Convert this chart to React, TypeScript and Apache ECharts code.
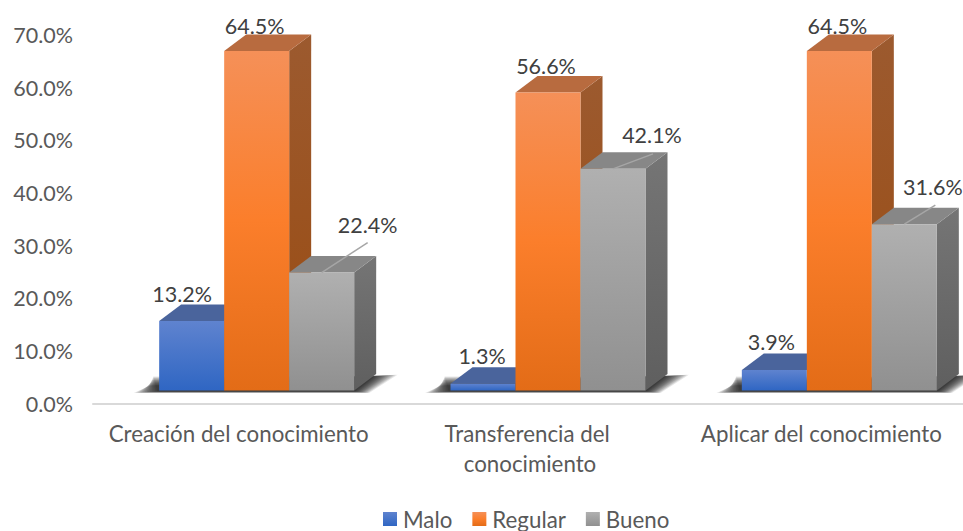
import React, { useEffect, useRef } from "react";
import * as echarts from "echarts";

const categories = ["Creación del conocimiento", "Transferencia del conocimiento", "Aplicar del conocimiento"];
const malo = [13.2, 1.3, 3.9];
const regular = [64.5, 56.6, 64.5];
const bueno = [22.4, 42.1, 31.6];
const seriesNames = ["Malo", "Regular", "Bueno"];
const FONT = "Lato, Carlito, sans-serif";

const BAR_W = 65, DX = 22, DY = 16.5, LIFT = 13, SHIFT = 18;

const lg = (a: string, b: string) => new echarts.graphic.LinearGradient(0, 0, 0, 1, [{ offset: 0, color: a }, { offset: 1, color: b }]);
const lg3 = (a: string, m: string, b: string) => new echarts.graphic.LinearGradient(0, 0, 0, 1, [{ offset: 0, color: a }, { offset: 0.5, color: m }, { offset: 1, color: b }]);

const styles = [
  { front: () => lg("#5f83cf", "#2f66c3"), top: "#4a649c", side: () => lg("#3f5d99", "#2a4a85") },
  { front: () => lg3("#f59058", "#fb7e2b", "#e36c17"), top: "#b86b3f", side: () => lg("#9c5a2f", "#9a4c12") },
  { front: () => lg("#b0b0b0", "#909090"), top: "#878787", side: () => lg("#757575", "#5f5f5f") },
];

// label placement relative to the bar's top-centre [seriesIndex][categoryIndex]
const labelOffsets = [
  [[-9.5, -27], [-1, -28], [-3, -28]],
  [[-2, -25], [-2, -27], [-2, -25]],
  [[46, -48], [39, -34], [28.5, -37]],
];
const leaderEnds: number[][] = [[46, -30], [40, -15], [31, -19]];

function renderBar(params: any, api: any) {
  const s = params.seriesIndex - 1;
  const cat = api.value(0);
  const val = api.value(1);
  const top = api.coord([cat, val]);
  const base = api.coord([cat, 0]);
  const x0 = base[0] + SHIFT + (s - 1) * BAR_W - BAR_W / 2;
  const x1 = x0 + BAR_W;
  const yb = base[1] - LIFT;
  const yt = top[1] - LIFT;
  const st = styles[s];
  const cx = (x0 + x1) / 2;
  const off = labelOffsets[s][cat];
  const children: any[] = [
    { type: "polygon", shape: { points: [[x1, yb], [x1 + DX, yb - DY], [x1 + DX, yt - DY], [x1, yt]] }, style: { fill: st.side() } },
    { type: "polygon", shape: { points: [[x0, yt], [x0 + DX, yt - DY], [x1 + DX, yt - DY], [x1, yt]] }, style: { fill: st.top } },
    { type: "rect", shape: { x: x0, y: yt, width: BAR_W, height: yb - yt }, style: { fill: st.front() } },
  ];
  if (s === 2) {
    const e = leaderEnds[cat];
    children.push({ type: "line", shape: { x1: cx, y1: yt, x2: cx + e[0], y2: yt + e[1] }, style: { stroke: "#a6a6a6", lineWidth: 1.5 } });
  }
  children.push({
    type: "text",
    style: { x: cx + off[0], y: yt + off[1], text: val.toFixed(1) + "%", fill: "#404040", font: `21.5px ${FONT}`, align: "center", verticalAlign: "middle" },
  });
  return { type: "group", children };
}

function renderShadow(params: any, api: any) {
  const base = api.coord([api.value(0), 0]);
  const cx = base[0] + SHIFT;
  const yb = base[1] - LIFT;
  const children: any[] = [];
  const L = cx - 1.5 * BAR_W, R = cx + 1.5 * BAR_W;
  const n = 14;
  for (let i = 0; i < n; i++) {
    const g = (n - 1 - i) * 1.8;
    children.push({
      type: "polygon",
      shape: {
        points: [
          [L - 2 - g, yb + 1 + g * 0.06],
          [R + 1 + g * 0.6, yb + 1 + g * 0.06],
          [R + 20 + g, yb - 14 - g * 0.08],
          [L - 6 - g * 0.15, yb - 14 + g * 0.4],
        ],
      },
      style: { fill: "rgba(0,0,0,0.095)" },
    });
  }
  return { type: "group", children };
}

export default function App() {
  const ref = useRef<HTMLDivElement>(null);
  useEffect(() => {
    const chart = echarts.init(ref.current!, undefined, { renderer: "svg" });
    const all = [malo, regular, bueno];
    chart.setOption({
      animation: false,
      textStyle: { fontFamily: FONT },
      grid: { left: 93, right: -4, top: 35, bottom: 127.5, outerBoundsMode: "none" },
      xAxis: {
        type: "category",
        data: categories,
        axisLine: { lineStyle: { color: "#d9d9d9", width: 2 } },
        axisTick: { show: false },
        axisLabel: { color: "#595959", fontSize: 22.3, fontFamily: FONT, margin: 15, width: 272, overflow: "break", lineHeight: 30, interval: 0 },
      },
      yAxis: {
        type: "value",
        min: 0,
        max: 70,
        interval: 10,
        axisLine: { show: false },
        axisTick: { show: false },
        splitLine: { show: false },
        axisLabel: { color: "#595959", fontSize: 21.5, fontFamily: FONT, margin: 20, formatter: (v: number) => v.toFixed(1) + "%" },
      },
      legend: {
        data: seriesNames,
        top: 503,
        left: 378,
        itemWidth: 14,
        itemHeight: 14,
        itemGap: 20,
        icon: "rect",
        textStyle: { color: "#595959", fontSize: 22.3, fontFamily: FONT, padding: [0, 0, 0, 1] },
      },
      series: [
        {
          type: "custom",
          name: "shadow",
          silent: true,
          renderItem: renderShadow,
          data: categories.map((_, i) => [i, 0]),
          encode: { x: 0, y: 1 },
          z: 1,
        },
        ...seriesNames.map((name, s) => ({
          type: "custom",
          name,
          renderItem: renderBar,
          itemStyle: { color: styles[s].front() },
          data: all[s].map((v, i) => [i, v]),
          encode: { x: 0, y: 1 },
          z: 2 + s,
        })),
      ],
    });
    return () => chart.dispose();
  }, []);
  return <div ref={ref} style={{ position: "absolute", left: 0, top: 0, width: 963, height: 531 }} />;
}
